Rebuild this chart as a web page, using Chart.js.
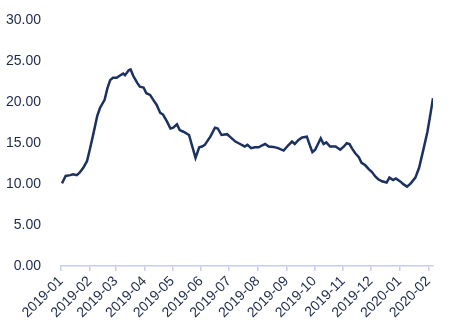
<!DOCTYPE html>
<html>
<head>
<meta charset="utf-8">
<script src="https://cdn.jsdelivr.net/npm/chart.js@4.4.1/dist/chart.umd.min.js"></script>
<style>
  html, body { margin: 0; padding: 0; background: #fff; }
  #wrap { width: 469px; height: 334px; }
</style>
</head>
<body>
<div id="wrap"><canvas id="rateChart" width="469" height="334"></canvas></div>
<script>
// days since 2019-01-01
const days = [1, 5, 10, 13, 17, 20, 24, 28, 31, 35, 39, 42, 47, 50, 53, 56, 60, 64, 67, 69, 73, 75,
  78, 82, 85, 89, 92, 96, 100, 103, 107, 110, 114, 118, 121, 125, 128, 132, 138,
  145, 149, 152, 155, 161, 166, 169, 173, 179, 182, 188, 193, 198, 201, 205, 209, 213, 217, 220,
  224, 229, 234, 240, 245, 249, 252, 256, 260, 265, 269, 271, 274, 280, 283, 286, 290, 296,
  301, 305, 308, 311, 314, 317, 321, 324, 328, 332, 335, 339, 342, 346, 351, 354, 358, 361,
  366, 369, 373, 377, 382, 386, 391, 395, 398, 401];
const values = [10.1, 11.0, 11.1, 11.2, 11.1, 11.4, 12.0, 12.8, 14.2, 16.2, 18.3, 19.3, 20.3, 21.7, 22.7, 23.0, 23.0, 23.3, 23.5, 23.3, 23.9, 24.0,
  23.2, 22.4, 21.9, 21.8, 21.1, 20.9, 20.2, 19.7, 18.7, 18.5, 17.7, 16.8, 16.9, 17.3, 16.6, 16.4, 16.0,
  13.2, 14.5, 14.6, 14.8, 15.8, 16.9, 16.8, 16.0, 16.1, 15.8, 15.2, 14.9, 14.6, 14.8, 14.4, 14.5, 14.5, 14.75, 14.9,
  14.6, 14.55, 14.4, 14.1, 14.75, 15.2, 14.9, 15.4, 15.7, 15.8, 14.5, 13.9, 14.2, 15.6, 14.9, 15.1, 14.6, 14.6,
  14.2, 14.6, 15.0, 14.9, 14.3, 13.8, 13.3, 12.6, 12.3, 11.8, 11.5, 10.9, 10.6, 10.35, 10.2, 10.8, 10.5, 10.7,
  10.3, 10.0, 9.7, 10.1, 10.8, 12.0, 14.4, 16.4, 18.4, 20.5];

const monthDays = [0, 31, 59, 90, 120, 151, 181, 212, 243, 273, 304, 334, 365, 396];
const monthLabels = ['2019-01', '2019-02', '2019-03', '2019-04', '2019-05', '2019-06', '2019-07',
  '2019-08', '2019-09', '2019-10', '2019-11', '2019-12', '2020-01', '2020-02'];

const textColor = '#1e2a4a';
const axisColor = '#c9cdea';

const ctx = document.getElementById('rateChart').getContext('2d');
const myChart = new Chart(ctx, {
    type: 'line',
    data: {
        datasets: [{
            data: days.map((d, i) => ({ x: d, y: values[i] })),
            borderColor: '#1b3160',
            borderWidth: 2.5,
            pointRadius: 0,
            fill: false,
            tension: 0
        }]
    },
    options: {
        responsive: false,
        animation: false,
        layout: { padding: { top: 18, right: 36, left: 0, bottom: 0 } },
        plugins: { legend: { display: false }, tooltip: { enabled: false } },
        scales: {
            x: {
                type: 'linear',
                min: 0,
                max: 401,
                afterBuildTicks: axis => {
                    axis.ticks = monthDays.map(v => ({ value: v }));
                },
                afterFit: axis => { axis.height = 68; },
                border: { display: true, color: axisColor, width: 1.5 },
                grid: { display: true, drawOnChartArea: false, color: axisColor, tickLength: 5, lineWidth: 1.5 },
                ticks: {
                    autoSkip: false,
                    minRotation: 45,
                    maxRotation: 45,
                    padding: 2,
                    color: textColor,
                    font: { family: 'Liberation Sans', size: 14 },
                    callback: (v, i) => monthLabels[i]
                }
            },
            y: {
                min: 0,
                max: 30,
                afterFit: axis => { axis.width = 61; },
                border: { display: false },
                grid: { display: false },
                ticks: {
                    stepSize: 5,
                    padding: 12,
                    color: textColor,
                    font: { family: 'Liberation Sans', size: 14 },
                    callback: v => v.toFixed(2)
                }
            }
        }
    }
});
</script>
</body>
</html>
